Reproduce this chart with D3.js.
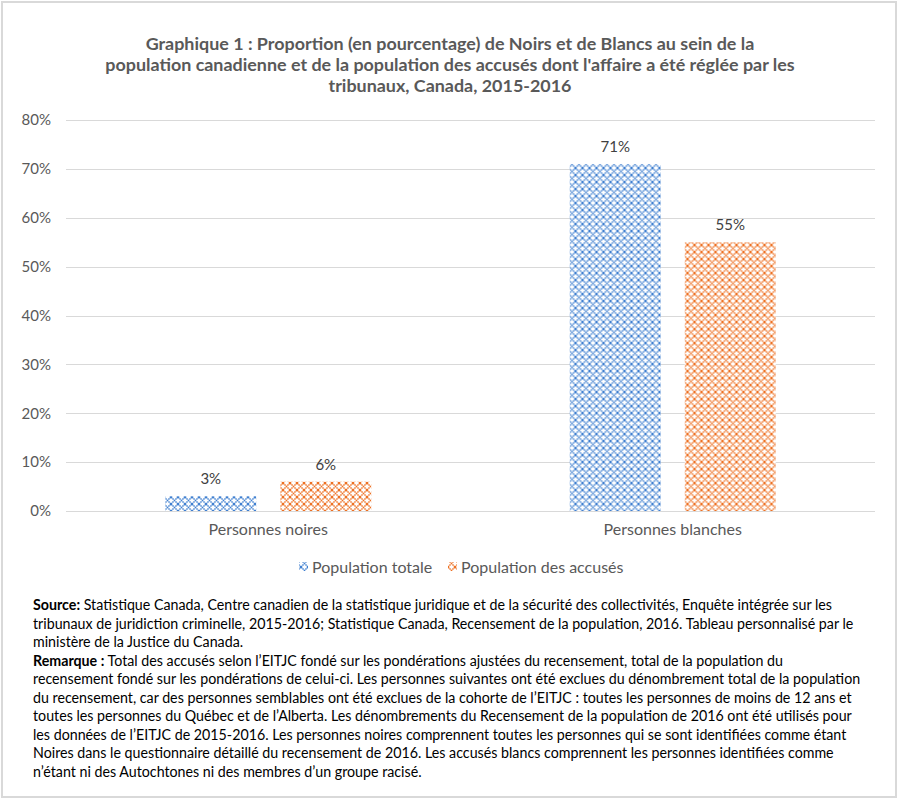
<!DOCTYPE html>
<html lang="fr">
<head>
<meta charset="utf-8">
<script src="https://cdn.jsdelivr.net/npm/d3@7"></script>
<style>
  html, body { margin: 0; padding: 0; background: #fff; }
  svg { display: block; font-family: Lato, "Open Sans", sans-serif; }
</style>
</head>
<body>
<svg id="chart" width="900" height="800"></svg>
<script>
// ---- Data ----
const categories = ["Personnes noires", "Personnes blanches"];
const seriesNames = ["Population totale", "Population des accusés"];
const totalPopulation = [3, 71];
const accusedPopulation = [6, 55];
const yTickValues = [0, 10, 20, 30, 40, 50, 60, 70, 80];
const titleLines = [
  "Graphique 1 : Proportion (en pourcentage) de Noirs et de Blancs au sein de la",
  "population canadienne et de la population des accusés dont l'affaire a été réglée par les",
  "tribunaux, Canada, 2015-2016"
];
const noteLines = [
  [["Source:", true], [" Statistique Canada, Centre canadien de la statistique juridique et de la sécurité des collectivités, Enquête intégrée sur les", false]],
  [["tribunaux de juridiction criminelle, 2015-2016; Statistique Canada, Recensement de la population, 2016. Tableau personnalisé par le", false]],
  [["ministère de la Justice du Canada.", false]],
  [["Remarque :", true], [" Total des accusés selon l’EITJC fondé sur les pondérations ajustées du recensement, total de la population du", false]],
  [["recensement fondé sur les pondérations de celui-ci. Les personnes suivantes ont été exclues du dénombrement total de la population", false]],
  [["du recensement, car des personnes semblables ont été exclues de la cohorte de l’EITJC : toutes les personnes de moins de 12 ans et", false]],
  [["toutes les personnes du Québec et de l’Alberta. Les dénombrements du Recensement de la population de 2016 ont été utilisés pour", false]],
  [["les données de l’EITJC de 2015-2016. Les personnes noires comprennent toutes les personnes qui se sont identifiées comme étant", false]],
  [["Noires dans le questionnaire détaillé du recensement de 2016. Les accusés blancs comprennent les personnes  identifiées comme", false]],
  [["n’étant ni des Autochtones ni des membres d’un groupe racisé.", false]]
];

const seriesValues = [totalPopulation, accusedPopulation];
const seriesColors = ["#3f7fd0", "#ed7022"];

const svg = d3.select("#chart");

// ---- Patterns ----
const defs = svg.append("defs");
seriesColors.forEach((c, i) => {
  const p = defs.append("pattern")
    .attr("id", "pat" + i)
    .attr("patternUnits", "userSpaceOnUse")
    .attr("width", 7).attr("height", 7);
  p.append("rect").attr("width", 7).attr("height", 7).attr("fill", "#fff");
  p.append("path")
    .attr("d", "M0,0L7,7M7,0L0,7")
    .attr("stroke", c).attr("stroke-width", 1.4).attr("stroke-dasharray", "1.6,0.5");
});

// ---- Frame ----
svg.append("rect").attr("x", 2).attr("y", 2).attr("width", 894).attr("height", 795)
  .attr("fill", "#fff").attr("stroke", "#d9d9d9").attr("stroke-width", 2);

// ---- Title ----
const titleG = svg.append("g");
titleLines.forEach((t, i) => {
  titleG.append("text")
    .attr("x", 450).attr("y", 50 + i * 21)
    .attr("text-anchor", "middle")
    .attr("font-size", 17).attr("font-weight", "bold")
    .attr("fill", "#595959")
    .text(t);
});
(function () {
  const nodes = titleG.selectAll("text").nodes();
  const w = nodes[1].getComputedTextLength();
  const fs = 17 * 690 / w;
  titleG.selectAll("text").attr("font-size", fs);
})();

// ---- Scales ----
const x0 = d3.scaleBand().domain(categories).range([66, 875]).paddingInner(0).paddingOuter(0);
const x1 = d3.scaleBand().domain(seriesNames).range([0, x0.bandwidth()])
  .paddingInner(0.209).paddingOuter(0.863);
const y = d3.scaleLinear().domain([0, 80]).range([511, 120]);

// ---- Gridlines ----
svg.append("g").selectAll("line").data(yTickValues).join("line")
  .attr("x1", 66).attr("x2", 875)
  .attr("y1", d => Math.round(y(d)) + 0.5).attr("y2", d => Math.round(y(d)) + 0.5)
  .attr("stroke", "#d9d9d9").attr("stroke-width", 1);

// ---- Y axis ----
const yAxis = d3.axisLeft(y).tickValues(yTickValues).tickFormat(d => d + "%").tickSize(0).tickPadding(0);
const yg = svg.append("g").attr("transform", "translate(51,0)").call(yAxis);
yg.select(".domain").remove();
yg.selectAll("text").attr("font-size", 15).attr("fill", "#595959")
  .attr("font-family", "Lato, sans-serif");

// ---- X axis ----
const xAxis = d3.axisBottom(x0).tickSize(0).tickPadding(0);
const xg = svg.append("g").attr("transform", "translate(0,524)").call(xAxis);
xg.select(".domain").remove();
xg.selectAll("text").attr("font-size", 16).attr("fill", "#595959")
  .attr("font-family", "Lato, sans-serif");

// ---- Bars ----
const groups = svg.append("g").selectAll("g").data(categories).join("g")
  .attr("transform", d => `translate(${x0(d)},0)`);
groups.each(function (cat, ci) {
  const g = d3.select(this);
  seriesNames.forEach((s, si) => {
    const v = seriesValues[si][ci];
    g.append("rect")
      .attr("x", x1(s)).attr("width", x1.bandwidth())
      .attr("y", y(v)).attr("height", y(0) - y(v))
      .attr("fill", `url(#pat${si})`);
    g.append("text")
      .attr("x", x1(s) + x1.bandwidth() / 2)
      .attr("y", y(v) - 12)
      .attr("text-anchor", "middle")
      .attr("font-size", 15).attr("fill", "#404040")
      .text(v + "%");
  });
});

// ---- Legend ----
const legendX = [299, 448];
const legend = svg.append("g");
seriesNames.forEach((s, i) => {
  legend.append("rect").attr("x", legendX[i]).attr("y", 562).attr("width", 9).attr("height", 9)
    .attr("fill", `url(#pat${i})`);
  legend.append("text").attr("x", legendX[i] + 13).attr("y", 572.5)
    .attr("font-size", 16).attr("fill", "#595959").text(s);
});

// ---- Notes ----
const notes = svg.append("g");
noteLines.forEach((parts, i) => {
  const t = notes.append("text").attr("x", 33).attr("y", 610 + i * 18.5)
    .attr("font-size", 14.5).attr("fill", "#000");
  parts.forEach(([txt, bold]) => {
    t.append("tspan").attr("font-weight", bold ? "bold" : "normal").text(txt);
  });
});
// condense notes horizontally so line 1 ends at x≈832
(function () {
  const nodes = notes.selectAll("text").nodes();
  const scale = (832 - 33) / nodes[0].getComputedTextLength();
  nodes.forEach(n => {
    const w = n.getComputedTextLength();
    d3.select(n).attr("textLength", w * scale).attr("lengthAdjust", "spacingAndGlyphs");
  });
})();
</script>
</body>
</html>
